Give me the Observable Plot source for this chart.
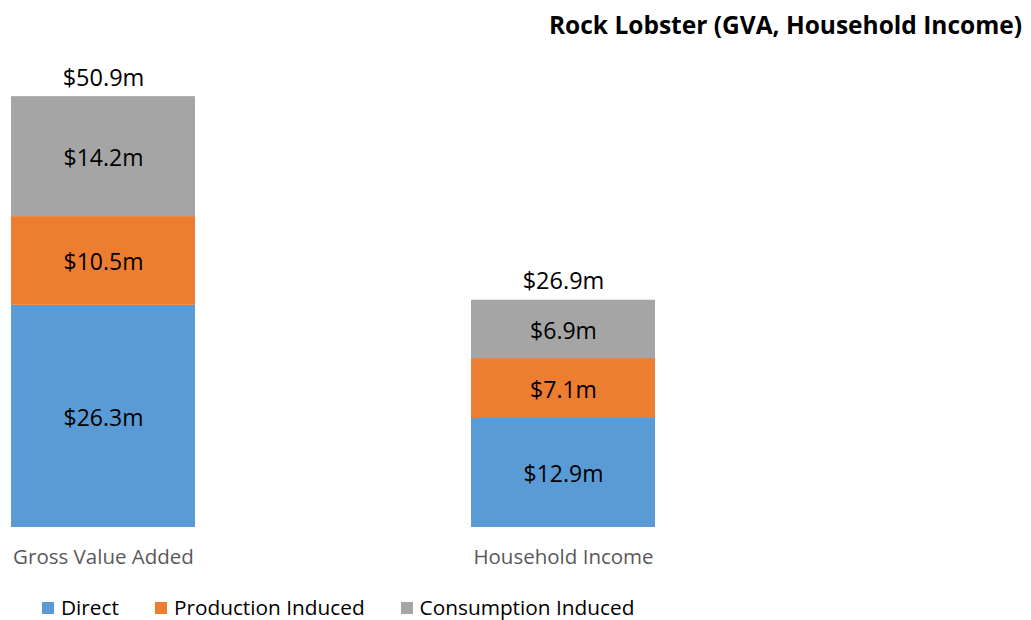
<!DOCTYPE html>
<html>
<head>
<meta charset="utf-8">
<script src="https://cdn.jsdelivr.net/npm/d3@7"></script>
<script src="https://cdn.jsdelivr.net/npm/@observablehq/plot@0.6"></script>
<style>
  html, body { margin: 0; padding: 0; background: #fff; }
  #wrap { position: relative; width: 1031px; height: 620px; overflow: hidden; font-family: "Open Sans", sans-serif; }
  #title { position: absolute; top: 7px; right: 9px; font-weight: 700; font-size: 24.5px; line-height: 36px; color: #000; white-space: nowrap; }
  #chart { position: absolute; left: 0; top: 0; }
  #legend { position: absolute; left: 42px; top: 597px; display: flex; gap: 36px; font-size: 20.8px; line-height: 21px; color: #000; white-space: nowrap; }
  .item { display: flex; align-items: center; }
  .sw { width: 12px; height: 12px; margin-right: 7px; display: inline-block; }
</style>
</head>
<body>
<div id="wrap">
  <div id="chart"></div>
  <div id="title">Rock Lobster (GVA, Household Income)</div>
  <div id="legend"></div>
</div>
<script>
const categories = ["Gross Value Added", "Household Income"];
const series = ["Direct", "Production Induced", "Consumption Induced"];
const direct = [26.3, 12.9];
const production = [10.5, 7.1];
const consumption = [14.2, 6.9];
const totals = [50.9, 26.9];
const colors = ["#5B9BD5", "#ED7D31", "#A5A5A5"];

const seriesValues = [direct, production, consumption];
const rows = [];
series.forEach((s, i) => {
  categories.forEach((c, j) => {
    rows.push({category: c, series: s, value: seriesValues[i][j]});
  });
});
const totalRows = categories.map((c, j) => ({category: c, total: totals[j]}));
const fmt = v => "$" + v.toFixed(1) + "m";

const chart = Plot.plot({
  width: 1031,
  height: 580,
  marginLeft: 0, marginRight: 0, marginTop: 0, marginBottom: 0,
  style: {fontFamily: "Open Sans", background: "transparent"},
  x: {domain: categories, range: [10.5, 656], paddingInner: 0.599, paddingOuter: 0, axis: null},
  y: {domain: [0, 50.9], range: [527, 97], axis: null},
  color: {domain: series, range: colors},
  marks: [
    Plot.barY(rows, {x: "category", y: "value", fill: "series", order: series}),
    Plot.text(rows, Plot.stackY({x: "category", y: "value", z: "series", order: series,
      text: d => fmt(d.value), fill: "#000", fontSize: 23, dy: 2})),
    Plot.text(totalRows, {x: "category", y: "total", text: d => fmt(d.total), dy: -19, fill: "#000", fontSize: 23.5}),
    Plot.text(categories, {x: d => d, y: () => 0, text: d => d, dy: 30, fill: "#595959", fontSize: 20.5})
  ]
});
document.getElementById("chart").appendChild(chart);

const legend = document.getElementById("legend");
series.forEach((s, i) => {
  const item = document.createElement("div");
  item.className = "item";
  const sw = document.createElement("span");
  sw.className = "sw";
  sw.style.background = colors[i];
  const t = document.createElement("span");
  t.textContent = s;
  item.appendChild(sw);
  item.appendChild(t);
  legend.appendChild(item);
});
</script>
</body>
</html>
